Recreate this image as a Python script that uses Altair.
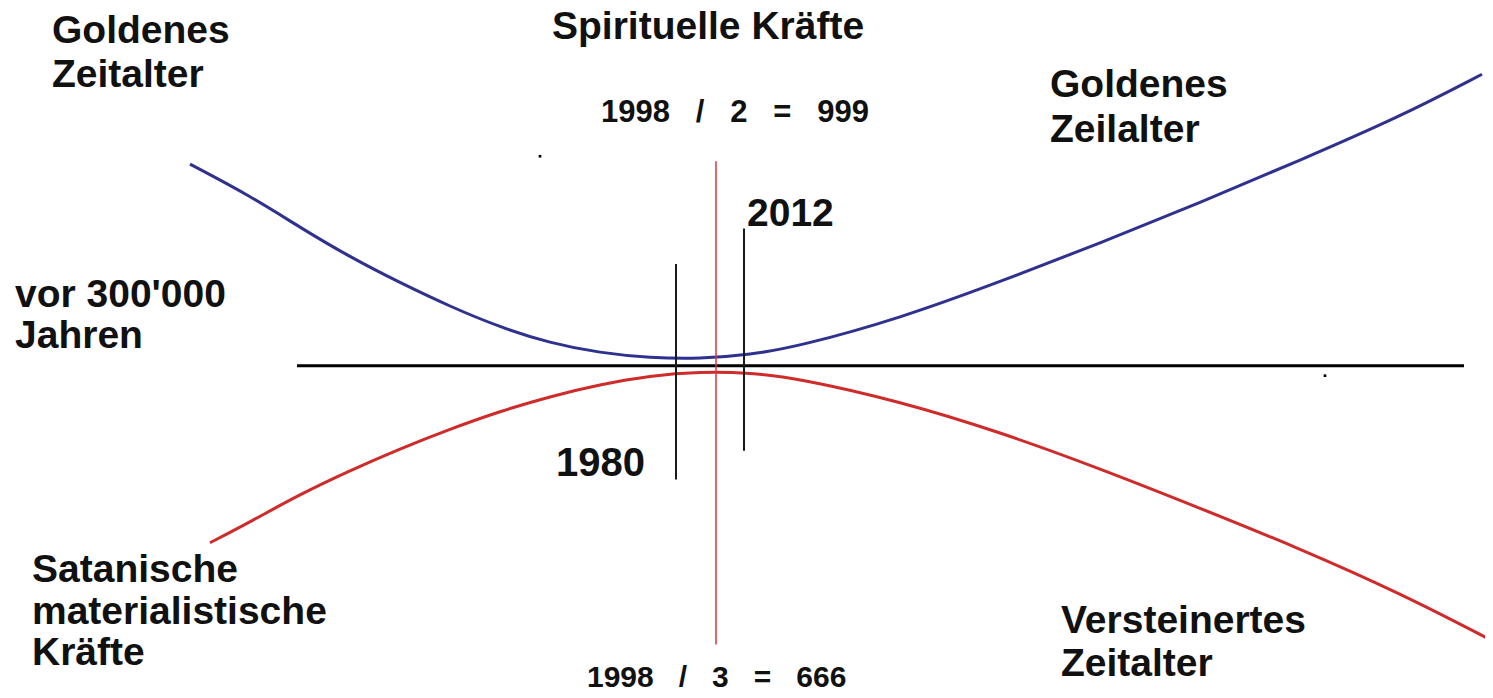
import altair as alt
import pandas as pd

# ---- data (reference pixel space, y downward) ----
blue_x = [190, 250, 300, 350, 400, 450, 500, 550, 600, 650, 700, 750, 800, 900, 1000, 1100, 1200, 1300, 1400, 1482]
blue_y = [166, 198, 230, 260, 286, 310, 331, 347, 357, 362, 363, 359, 350, 322, 285, 246, 205, 162, 118, 75]

red_x = [210, 250, 300, 350, 400, 450, 500, 550, 600, 650, 700, 750, 800, 900, 1000, 1100, 1200, 1300, 1400, 1492]
red_y = [549, 528, 500, 476, 454, 434, 416, 401, 389, 380, 376, 377, 383, 406, 437, 474, 514, 555, 600, 648]

base_y = [370]
base_x0 = [297]
base_x1 = [1464]

vline_names = ["1998", "1980", "2012"]
vline_x = [716, 676, 744]
vline_y0 = [163, 267, 231]
vline_y1 = [652, 485, 456]
vline_color = ["#d23a3a", "#1a1a1a", "#1a1a1a"]
vline_width = [1.5, 2, 2]

NB = "\u00a0"
sp = NB * 3
label_text = [
    "Goldenes", "Zeitalter",
    "Spirituelle Kräfte",
    "1998" + sp + "/" + sp + "2" + sp + "=" + sp + "999",
    "Goldenes", "Zeilalter",
    "2012",
    "vor 300'000", "Jahren",
    "1980",
    "Satanische", "materialistische", "Kräfte",
    "Versteinertes", "Zeitalter",
    "1998" + sp + "/" + sp + "3" + sp + "=" + sp + "666",
]
label_x = [52, 52, 552, 601, 1050, 1050, 747, 15, 15, 556, 32, 32, 32, 1061, 1061, 587]
label_y = [31, 76, 27, 114, 86, 131, 216, 298, 340, 469, 577, 619, 661, 628, 672, 686]
label_size = [39, 39, 39, 31, 39, 39, 39, 39, 39, 40, 39, 39, 39, 39, 39, 30]

dot_x = [1325, 540]
dot_y = [380, 158]

# ---- scales: picture pixels onto the page ----
# horizontally a negative padding cancels the 8px page margin (exact mapping);
# vertically the picture rows 8..698 are fitted into the 682px that the page leaves.
W, H = 1493, 682
xs = alt.Scale(domain=[0, 1493], nice=False, zero=False)
ys = alt.Scale(domain=[8, 698], nice=False, zero=False, reverse=True)

def X(f="x"):
    return alt.X(f"{f}:Q", scale=xs, axis=None)

def Y(f="y"):
    return alt.Y(f"{f}:Q", scale=ys, axis=None)

blue_df = pd.DataFrame({"x": blue_x, "y": blue_y})
red_df = pd.DataFrame({"x": red_x, "y": red_y})
base_df = pd.DataFrame({"x": base_x0, "x2": base_x1, "y": base_y})
vl_df = pd.DataFrame({"name": vline_names, "x": vline_x, "y": vline_y0, "y2": vline_y1,
                      "c": vline_color, "w": vline_width})
lab_df = pd.DataFrame({"t": label_text, "x": label_x, "y": label_y, "s": label_size})
dot_df = pd.DataFrame({"x": dot_x, "y": dot_y})

blue = alt.Chart(blue_df).mark_line(color="#2f318f", strokeWidth=3, interpolate="basis").encode(
    x=X(), y=Y(), order="x:Q")
red = alt.Chart(red_df).mark_line(color="#cf2b2b", strokeWidth=3, interpolate="basis").encode(
    x=X(), y=Y(), order="x:Q")
base = alt.Chart(base_df).mark_rule(color="#000000", strokeWidth=3).encode(
    x=X(), x2="x2:Q", y=Y())
vlines = alt.Chart(vl_df).mark_rule().encode(
    x=X(), y=Y(), y2="y2:Q",
    color=alt.Color("c:N", scale=None),
    strokeWidth=alt.StrokeWidth("w:Q", scale=None))
dots = alt.Chart(dot_df).mark_square(color="#000000", size=7, opacity=1).encode(x=X(), y=Y())
labels = alt.Chart(lab_df).mark_text(
    align="left", baseline="middle", font="Liberation Sans", fontWeight="bold", color="#111111"
).encode(x=X(), y=Y(), text="t:N", size=alt.Size("s:Q", scale=None))

chart = alt.layer(blue, red, base, vlines, dots, labels).properties(
    width=W, height=H,
    padding={"left": -8, "top": 0, "right": -8, "bottom": 0},
    autosize=alt.AutoSizeParams(type="none"),
    background="#ffffff"
).configure_view(stroke=None)

chart.save("out.html", embed_options={"renderer": "svg", "actions": False})
